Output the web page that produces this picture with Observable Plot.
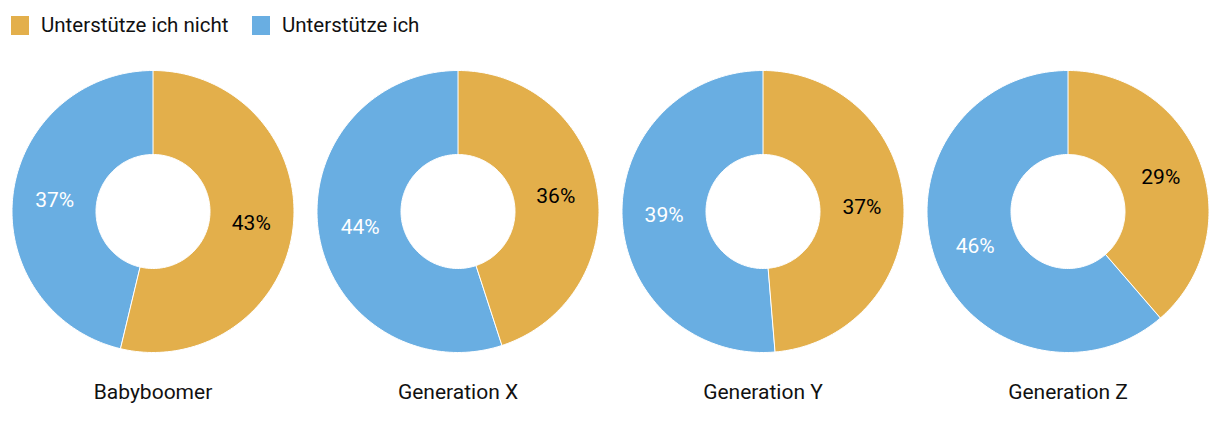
<!DOCTYPE html>
<html>
<head>
<meta charset="utf-8">
<script src="https://cdn.jsdelivr.net/npm/d3@7"></script>
<script src="https://cdn.jsdelivr.net/npm/@observablehq/plot@0.6"></script>
<style>
  body { margin: 0; background: #fff; font-family: Roboto, "Noto Sans", sans-serif; }
  #legend { position: relative; height: 46px; font-size: 20.5px; color: #111; }
  .item { position: absolute; top: 13px; display: flex; align-items: center; }
  .sw { width: 18px; height: 19px; margin-right: 12px; }
</style>
</head>
<body>
<div id="legend"></div>
<div id="chart"></div>
<script>
const generations = ["Babyboomer", "Generation X", "Generation Y", "Generation Z"];
const notSupport = [43, 36, 37, 29];
const support = [37, 44, 39, 46];
const answers = ["Unterstütze ich nicht", "Unterstütze ich"];
const colors = ["#E3AF4B", "#69AEE2"];
const labelColors = ["#000000", "#ffffff"];

const R = 1, r0 = 57 / 141;
const poly = [];
const labels = [];
generations.forEach((g, i) => {
  const vals = [notSupport[i], support[i]];
  const total = vals[0] + vals[1];
  let a = 0;
  vals.forEach((v, j) => {
    const a0 = a, a1 = a + v / total * 2 * Math.PI;
    a = a1;
    const n = 120;
    const id = g + "|" + j;
    for (let k = 0; k <= n; k++) {
      const t = a0 + (a1 - a0) * k / n;
      poly.push({gen: g, id, answer: answers[j], x: R * Math.sin(t), y: R * Math.cos(t)});
    }
    for (let k = n; k >= 0; k--) {
      const t = a0 + (a1 - a0) * k / n;
      poly.push({gen: g, id, answer: answers[j], x: r0 * Math.sin(t), y: r0 * Math.cos(t)});
    }
    const m = (a0 + a1) / 2, rm = (R + r0) / 2;
    labels.push({gen: g, answer: answers[j], text: v + "%", x: rm * Math.sin(m), y: rm * Math.cos(m), tc: labelColors[j]});
  });
});

const legend = document.getElementById("legend");
const legendLeft = [11, 252];
answers.forEach((a, j) => {
  const it = document.createElement("div");
  it.className = "item";
  it.style.left = legendLeft[j] + "px";
  it.innerHTML = `<span class="sw" style="background:${colors[j]}"></span><span>${a}</span>`;
  legend.appendChild(it);
});

const W = 1220, H = 396;
const px = 141;
const cy = 165, bottom = 320;
const half = (W / 4) / 2 / px;

const chart = Plot.plot({
  width: W,
  height: H,
  marginLeft: 0, marginRight: 0, marginTop: 0, marginBottom: H - bottom,
  style: {fontFamily: "Roboto, 'Noto Sans', sans-serif", fontSize: "21px", color: "#111", background: "#fff"},
  fx: {domain: generations, padding: 0, label: null, axis: "bottom", tickSize: 0, tickPadding: 18},
  x: {domain: [-half, half], axis: null},
  y: {domain: [-(bottom - cy) / px, cy / px], axis: null},
  color: {domain: answers, range: colors},
  marks: [
    Plot.line(poly, {fx: "gen", x: "x", y: "y", z: "id", fill: "answer", stroke: "#fff", strokeWidth: 1, curve: "linear-closed"}),
    Plot.text(labels, {fx: "gen", x: "x", y: "y", text: "text", fill: d => d.tc, fontSize: 21})
  ]
});
document.getElementById("chart").appendChild(chart);
</script>
</body>
</html>
